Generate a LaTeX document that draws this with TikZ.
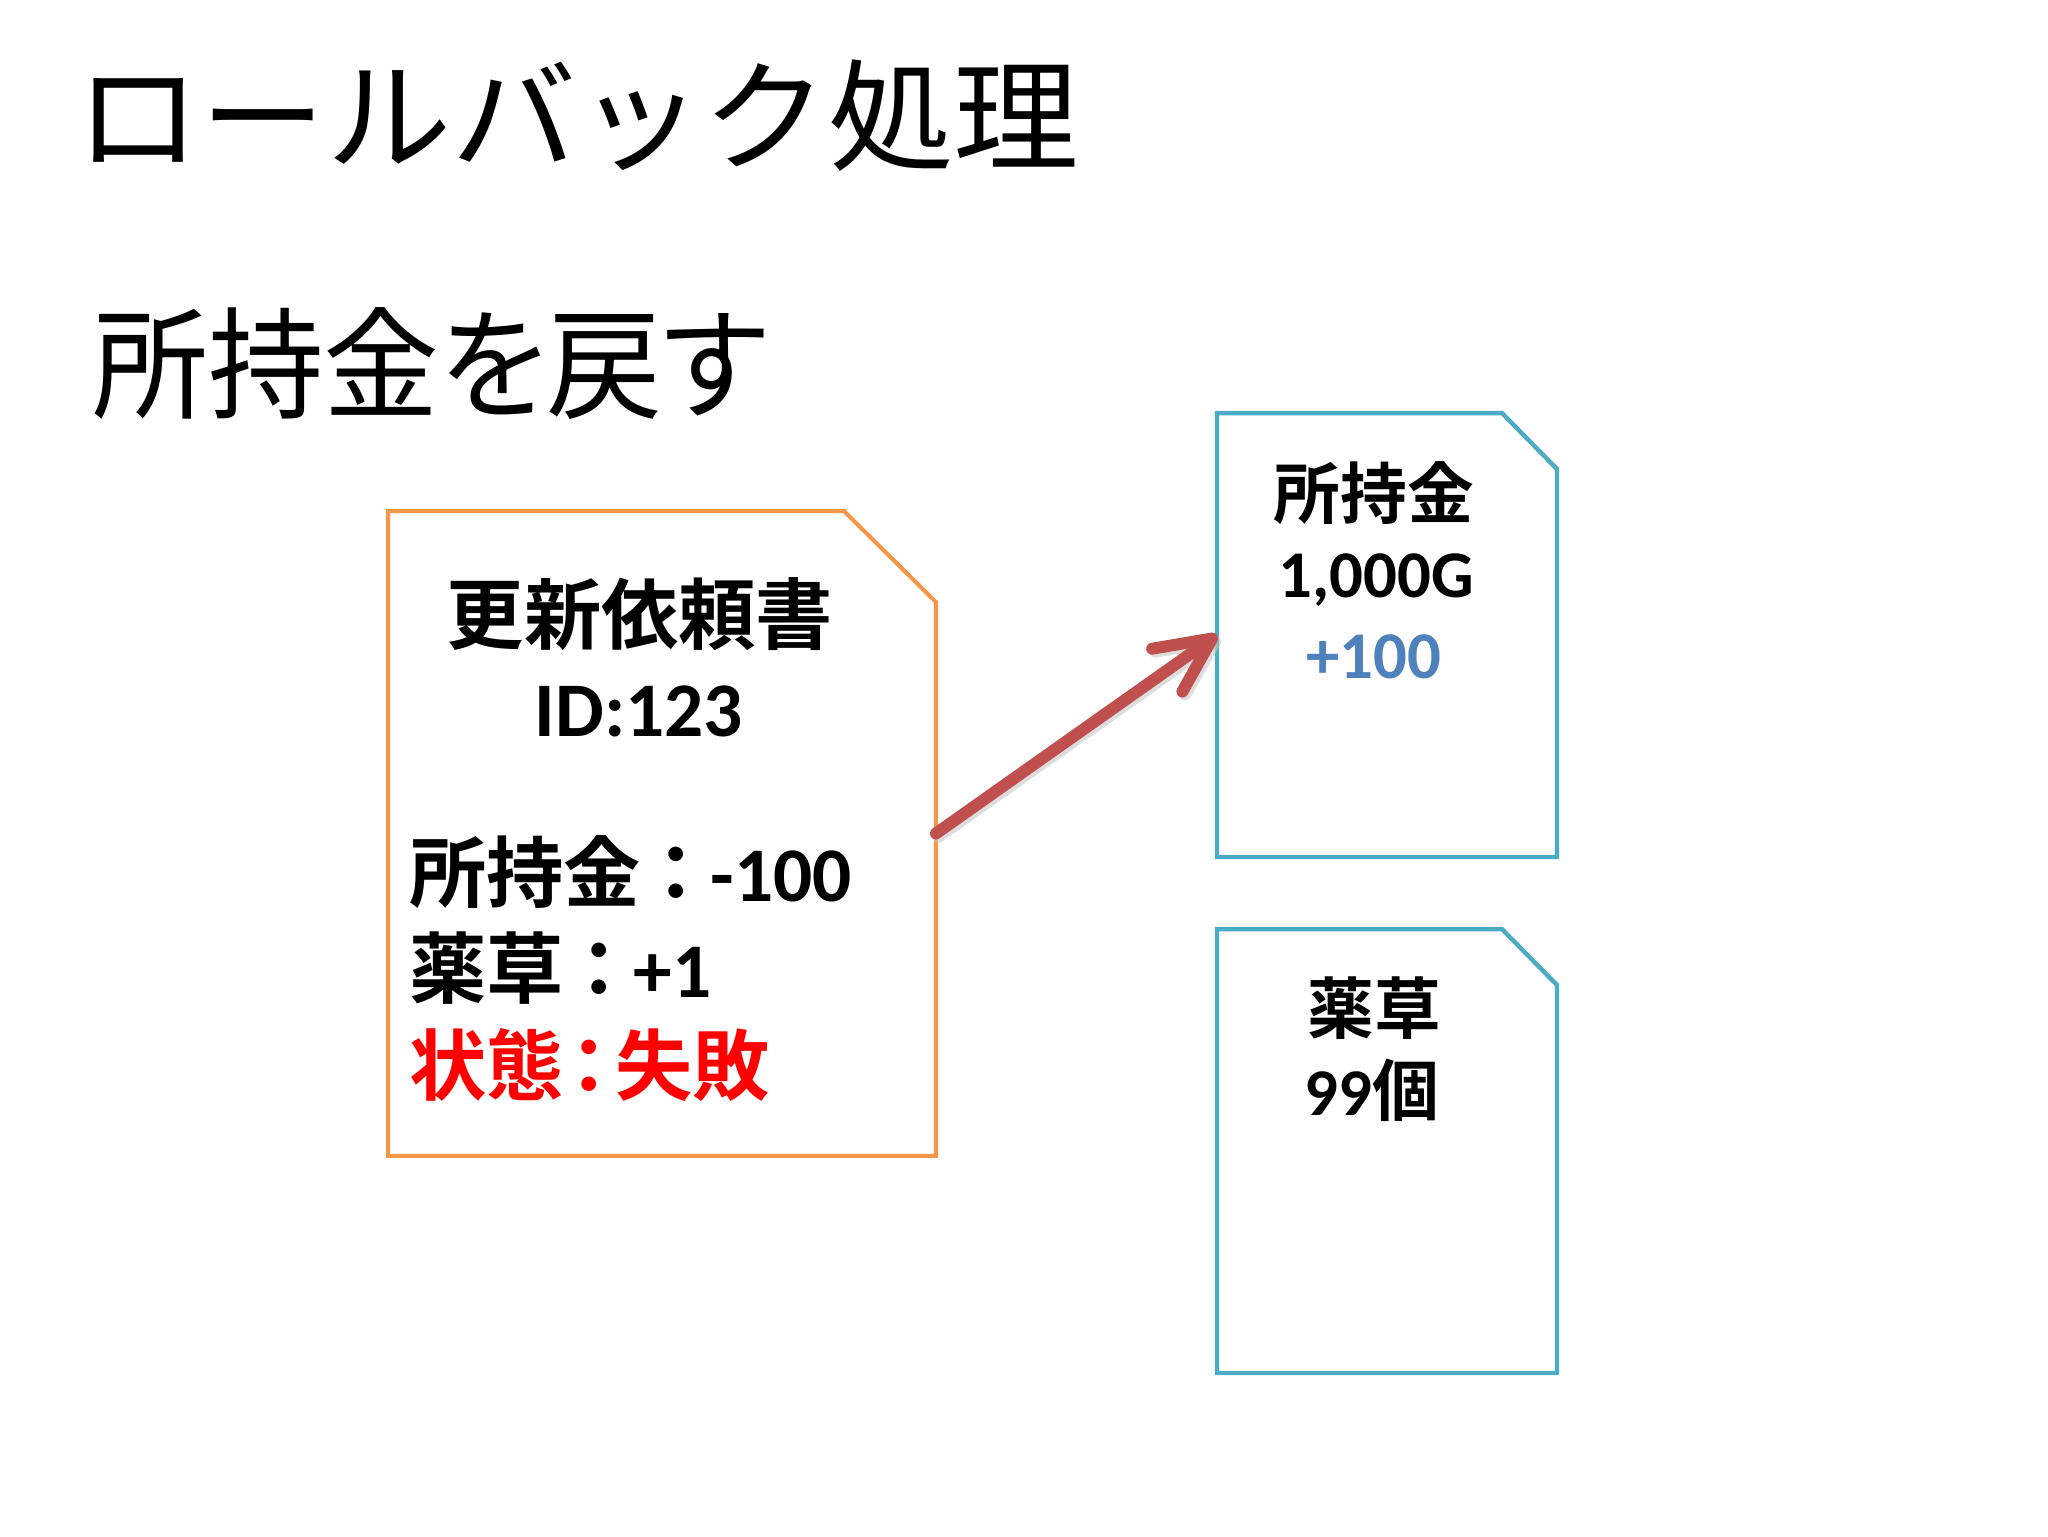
\documentclass[tikz,border=0pt]{standalone}
\usepackage{fontspec}
\usetikzlibrary{arrows.meta}
\newfontfamily\jpr{Noto Sans CJK JP}
\newfontfamily\jprp{Noto Sans CJK JP}[RawFeature=+palt]
\newfontfamily\jpb{Noto Sans CJK JP Bold}
\newfontfamily\latb{Carlito Bold}
\definecolor{docorange}{HTML}{F79646}
\definecolor{docblue}{HTML}{4BACC6}
\definecolor{arrowred}{HTML}{C0504D}
\definecolor{plusblue}{HTML}{4F81BD}
\definecolor{failred}{HTML}{FF0000}
\tikzset{
  docnode/.style={draw=none, inner sep=0pt, outer sep=0pt, rectangle},
  orangeline/.style={draw=docorange, line width=2.3pt, line join=miter},
  blueline/.style={draw=docblue, line width=2.5pt, line join=miter},
  titletext/.style={font=\jpr\fontsize{69}{80}\selectfont, inner sep=0pt, anchor=base west},
  subtext/.style={font=\jprp\fontsize{69}{80}\selectfont, inner sep=0pt, anchor=base west},
  bigtext/.style={font=\fontsize{44}{53}\selectfont, inner sep=0pt},
  smalltext/.style={font=\fontsize{38}{46}\selectfont, inner sep=0pt, anchor=base},
  redarrow/.style={draw=arrowred, line width=6.8pt, line cap=round,
    -{Straight Barb[length=1.1cm, width=1.05cm, round]}},
  arrowshadow/.style={draw=black!22, opacity=0.6, line width=6.8pt, line cap=round,
    -{Straight Barb[length=1.1cm, width=1.05cm, round]}}
}
\begin{document}
\begin{tikzpicture}[x=0.02cm, y=-0.02cm]
\useasboundingbox[fill=white] (0,0) rectangle (2048,1536);

% titles
\node[titletext, xscale=1.035] (title) at (75,161) {ロールバック処理};
\node[subtext, xscale=0.955] (subtitle) at (92,409) {所持金を戻す};

% document shapes
\node[docnode, minimum width=10.96cm, minimum height=12.9cm] (ord) at (662,833.5) {};
\draw[orangeline] (ord.north west) -- ([xshift=-1.84cm]ord.north east)
  -- ([yshift=-1.82cm]ord.north east) -- (ord.south east) -- (ord.south west) -- cycle;

\node[docnode, minimum width=6.8cm, minimum height=8.88cm] (bl1) at (1387,635) {};
\draw[blueline] (bl1.north west) -- ([xshift=-1.1cm]bl1.north east)
  -- ([yshift=-1.12cm]bl1.north east) -- (bl1.south east) -- (bl1.south west) -- cycle;

\node[docnode, minimum width=6.8cm, minimum height=8.88cm] (bl2) at (1387,1151) {};
\draw[blueline] (bl2.north west) -- ([xshift=-1.1cm]bl2.north east)
  -- ([yshift=-1.12cm]bl2.north east) -- (bl2.south east) -- (bl2.south west) -- cycle;

% orange document text
\node[bigtext, anchor=base] (req) at (640,643) {\jpb 更新依頼書};
\node[bigtext, anchor=base] (reqid) at (639,736) {\latb ID:123};
\node[bigtext, anchor=base west] (lmoney) at (409,901) {\jpb 所持金\kern-.05em：\kern-.05em\latb -100};
\node[bigtext, anchor=base west] (lherb) at (409,997) {\jpb 薬草\kern-.05em：\kern-.05em\latb +1};
\node[bigtext, anchor=base west, text=failred] (lstate) at (409,1094) {\jpb 状態\kern-.17em：\kern-.17em 失敗};

% blue document 1 text
\node[smalltext] (mhead) at (1374,518) {\jpb 所持金};
\node[smalltext] (mval) at (1376,597) {\latb 1,000G};
\node[smalltext, text=plusblue] (mplus) at (1374,678) {\latb +100};

% blue document 2 text
\node[smalltext] (hhead) at (1374,1033) {\jpb 薬草};
\node[smalltext] (hval) at (1372,1115) {\latb 99\jpb 個};

% arrow
\draw[arrowshadow, transform canvas={xshift=0.06cm, yshift=-0.06cm}] (ord.east) -- (bl1.west);
\draw[redarrow] (ord.east) -- (bl1.west);
\end{tikzpicture}
\end{document}
